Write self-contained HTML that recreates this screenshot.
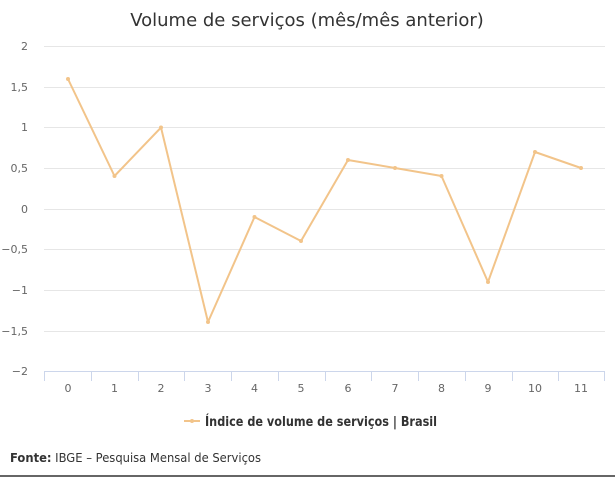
<!DOCTYPE html>
<html><head><meta charset="utf-8"><style>
body{margin:0;background:#fff;width:615px;height:477px;overflow:hidden;font-family:"DejaVu Sans","Liberation Sans",sans-serif;}
</style></head><body>
<svg width="615" height="477" xmlns="http://www.w3.org/2000/svg" font-family="DejaVu Sans, Liberation Sans, sans-serif">
<text x="307" y="26" text-anchor="middle" font-size="18" fill="#333">Volume de serviços (mês/mês anterior)</text>
<g stroke="#e6e6e6" stroke-width="1">
<line x1="44" x2="605" y1="46.5" y2="46.5"/>
<line x1="44" x2="605" y1="87.5" y2="87.5"/>
<line x1="44" x2="605" y1="127.5" y2="127.5"/>
<line x1="44" x2="605" y1="168.5" y2="168.5"/>
<line x1="44" x2="605" y1="209.5" y2="209.5"/>
<line x1="44" x2="605" y1="249.5" y2="249.5"/>
<line x1="44" x2="605" y1="290.5" y2="290.5"/>
<line x1="44" x2="605" y1="331.5" y2="331.5"/>
</g>
<line x1="44" x2="605" y1="371.5" y2="371.5" stroke="#ccd6eb"/>
<g stroke="#ccd6eb">
<line x1="44.5" x2="44.5" y1="371" y2="381"/><line x1="91.5" x2="91.5" y1="371" y2="381"/><line x1="138.5" x2="138.5" y1="371" y2="381"/><line x1="184.5" x2="184.5" y1="371" y2="381"/><line x1="231.5" x2="231.5" y1="371" y2="381"/><line x1="278.5" x2="278.5" y1="371" y2="381"/><line x1="325.5" x2="325.5" y1="371" y2="381"/><line x1="371.5" x2="371.5" y1="371" y2="381"/><line x1="418.5" x2="418.5" y1="371" y2="381"/><line x1="465.5" x2="465.5" y1="371" y2="381"/><line x1="512.5" x2="512.5" y1="371" y2="381"/><line x1="558.5" x2="558.5" y1="371" y2="381"/><line x1="604.5" x2="604.5" y1="371" y2="381"/>
</g>
<g font-size="11" fill="#666" text-anchor="end">
<text x="28" y="50">2</text><text x="28" y="91">1,5</text><text x="28" y="131">1</text><text x="28" y="172">0,5</text><text x="28" y="213">0</text><text x="28" y="253">−0,5</text><text x="28" y="294">−1</text><text x="28" y="335">−1,5</text><text x="28" y="375">−2</text>
</g>
<g font-size="11" fill="#666" text-anchor="middle">
<text x="68" y="392">0</text><text x="114.5" y="392">1</text><text x="161" y="392">2</text><text x="208" y="392">3</text><text x="254.5" y="392">4</text><text x="301" y="392">5</text><text x="348" y="392">6</text><text x="395" y="392">7</text><text x="441.5" y="392">8</text><text x="488" y="392">9</text><text x="535" y="392">10</text><text x="581" y="392">11</text>
</g>
<polyline fill="none" stroke="#f2c48a" stroke-width="2" stroke-linejoin="round" points="68,79 114.5,176 161,127.5 208,322 254.5,217 301,241 348,160 395,168 441.5,176 488,282 535,152 581,168"/>
<g fill="#f2c48a">
<circle cx="68" cy="79" r="2"/><circle cx="114.5" cy="176" r="2"/><circle cx="161" cy="127.5" r="2"/><circle cx="208" cy="322" r="2"/><circle cx="254.5" cy="217" r="2"/><circle cx="301" cy="241" r="2"/><circle cx="348" cy="160" r="2"/><circle cx="395" cy="168" r="2"/><circle cx="441.5" cy="176" r="2"/><circle cx="488" cy="282" r="2"/><circle cx="535" cy="152" r="2"/><circle cx="581" cy="168" r="2"/>
</g>
<line x1="184" x2="200" y1="421" y2="421" stroke="#f2c48a" stroke-width="2"/>
<circle cx="192" cy="421" r="2" fill="#f2c48a"/>
<text x="205" y="426" font-size="13" font-weight="bold" fill="#333" textLength="232" lengthAdjust="spacingAndGlyphs">Índice de volume de serviços | Brasil</text>
<text x="10" y="462" font-size="12" fill="#333" textLength="251" lengthAdjust="spacingAndGlyphs"><tspan font-weight="bold">Fonte:</tspan> IBGE – Pesquisa Mensal de Serviços</text>
<line x1="0" x2="615" y1="476" y2="476" stroke="#666" stroke-width="2"/>
</svg>
</body></html>
